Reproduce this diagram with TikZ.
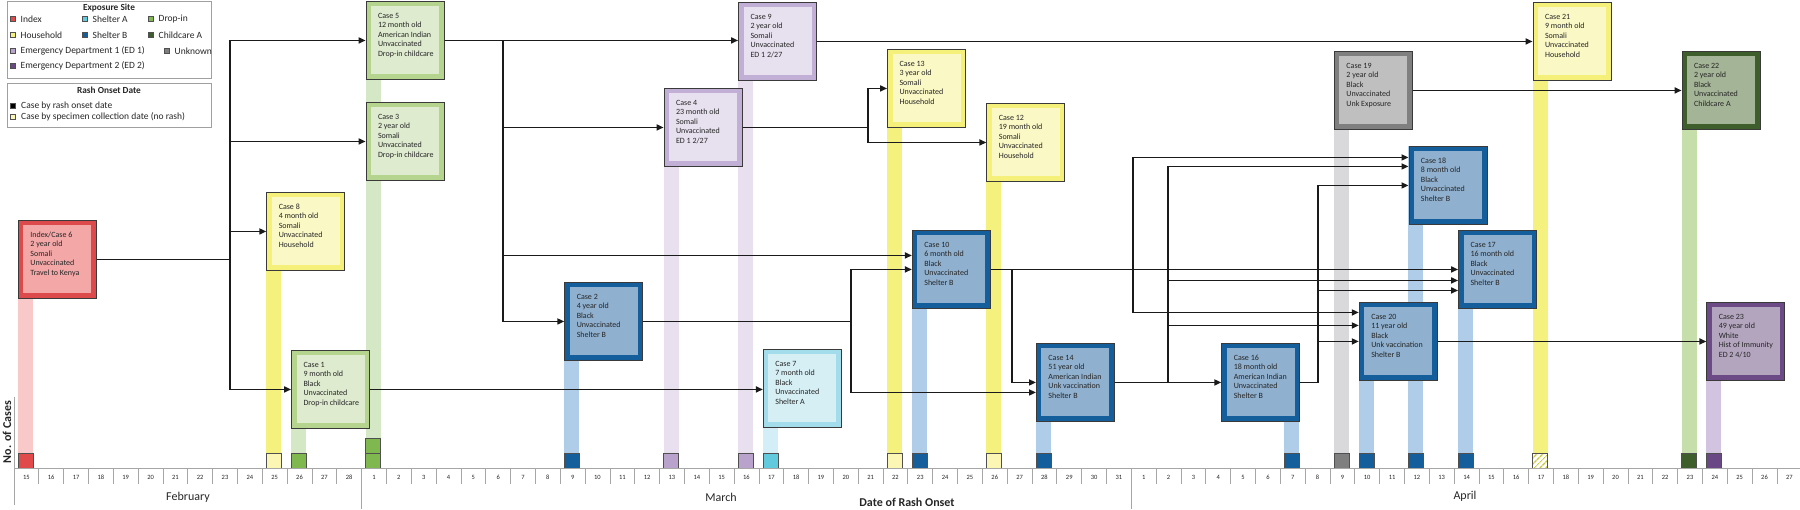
\documentclass[tikz,border=0pt]{standalone}
\usepackage{fontspec}
\setmainfont{Carlito}
\usepackage{tikz}
\usetikzlibrary{arrows.meta,calc,patterns.meta}

\definecolor{txtc}{HTML}{262626}
\definecolor{linkc}{HTML}{1A1A1A}
\definecolor{boxedge}{HTML}{3A3A3A}
\definecolor{sqedge}{HTML}{505050}
\definecolor{axisc}{HTML}{A6A6A6}
\definecolor{legc}{HTML}{A0A0A0}
\definecolor{hatchc}{HTML}{C9C63A}
% exposure site colours: frame, inner, date column, count square
\definecolor{idxfrm}{HTML}{DC4A4B}\definecolor{idxin}{HTML}{F4A7A7}\definecolor{idxbar}{HTML}{F9C9C9}\definecolor{idxsq}{HTML}{E04A4A}
\definecolor{hhfrm}{HTML}{F5F07A}\definecolor{hhin}{HTML}{FAF8C5}\definecolor{hhbar}{HTML}{F5F17E}\definecolor{specsq}{HTML}{FBF6B4}
\definecolor{dropfrm}{HTML}{B5D58F}\definecolor{dropin}{HTML}{DEEBCF}\definecolor{dropbar}{HTML}{D5E8C5}\definecolor{dropsq}{HTML}{7FB84E}
\definecolor{shafrm}{HTML}{A3DCEA}\definecolor{shain}{HTML}{D6EFF5}\definecolor{shabar}{HTML}{D3EEF6}\definecolor{shasq}{HTML}{62CADD}
\definecolor{shbfrm}{HTML}{155E9C}\definecolor{shbin}{HTML}{8FB0CF}\definecolor{shbbar}{HTML}{AFCDE8}\definecolor{shbsq}{HTML}{135E9B}
\definecolor{edafrm}{HTML}{C1AFD6}\definecolor{edain}{HTML}{E7E0EE}\definecolor{edabar}{HTML}{E8E0EF}\definecolor{edasq}{HTML}{B9A2CB}
\definecolor{edbfrm}{HTML}{6B4A86}\definecolor{edbin}{HTML}{B3A5BE}\definecolor{edbbar}{HTML}{D2C4E0}\definecolor{edbsq}{HTML}{6A4785}
\definecolor{ccafrm}{HTML}{3E5E2B}\definecolor{ccain}{HTML}{A4B496}\definecolor{ccabar}{HTML}{C6DEAA}\definecolor{ccasq}{HTML}{3E5E2B}
\definecolor{unkfrm}{HTML}{7F7F80}\definecolor{unkin}{HTML}{BFBFC0}\definecolor{unkbar}{HTML}{D9D9DB}\definecolor{unksq}{HTML}{7F7F7F}

\newcommand{\casefont}{\fontsize{8}{9.6}\selectfont}
\newcommand{\casetext}[1]{\parbox[c][58pt][t]{54pt}{\begin{tabular}{@{}l@{}}#1\end{tabular}}}

\tikzset{
  casebox/.style 2 args={draw=boxedge, line width=0.9pt, fill=#1, anchor=north west,
    minimum width=78pt, minimum height=78pt, inner sep=0pt, font=\casefont, text=txtc,
    path picture={\fill[#2] ([shift={(5pt,5pt)}]path picture bounding box.south west)
      rectangle ([shift={(-5pt,-5pt)}]path picture bounding box.north east);}},
  idxcase/.style={casebox={idxfrm}{idxin}},
  hhcase/.style={casebox={hhfrm}{hhin}},
  dropcase/.style={casebox={dropfrm}{dropin}},
  shacase/.style={casebox={shafrm}{shain}},
  shbcase/.style={casebox={shbfrm}{shbin}},
  edacase/.style={casebox={edafrm}{edain}},
  edbcase/.style={casebox={edbfrm}{edbin}},
  ccacase/.style={casebox={ccafrm}{ccain}},
  unkcase/.style={casebox={unkfrm}{unkin}},
  link/.style={draw=linkc, line width=1.6pt, -{Triangle[length=7pt,width=6pt]}},
  axisln/.style={draw=axisc, line width=0.8pt},
  daylbl/.style={font=\fontsize{6.5}{7}\selectfont, text=txtc},
  monthlbl/.style={font=\fontsize{12}{14}\selectfont, text=txtc},
  sq/.style={draw=sqedge, line width=0.6pt},
  legtitle/.style={font=\bfseries\fontsize{9.3}{10}\selectfont, text=txtc},
  legtxt/.style={font=\fontsize{9.5}{10}\selectfont, text=txtc, anchor=west, inner sep=0pt},
  legsq/.style={draw=sqedge, line width=0.5pt},
  legbox/.style={draw=legc, line width=0.9pt}
}

\begin{document}
\begin{tikzpicture}[x=1pt,y=-1pt]
    \useasboundingbox (0,0) rectangle (1800,509);

    % Legend: exposure site
    \draw[legbox] (7,1) rectangle (211,78);
    \node[legtitle] (legT1) at (109,8) {Exposure Site};
    \foreach \x/\y/\c/\t [count=\n] in {13/19/idxsq/Index, 85/19/shasq/Shelter A, 151/19/dropsq/Drop-in,
        13/35/hhbar/Household, 85/35/shbsq/Shelter B, 151/35/ccasq/Childcare A,
        13/51/edasq/Emergency Department 1 (ED 1), 167/51/unksq/Unknown,
        13/66/edbsq/Emergency Department 2 (ED 2)} {
        \filldraw[legsq, fill=\c] (\x-2.5,\y-2.5) rectangle ++(5,5);
        \node[legtxt] (leg\n) at (\x+7.5,\y) {\t};
    }

    % Legend: rash onset date
    \draw[legbox] (7,83) rectangle (211,127);
    \node[legtitle] (legT2) at (109,90) {Rash Onset Date};
    \filldraw[legsq, fill=black] (10.5,103.5) rectangle ++(5,5);
    \node[legtxt] (legR1) at (21,106) {Case by rash onset date};
    \filldraw[legsq, fill=specsq] (10.5,114.5) rectangle ++(5,5);
    \node[legtxt] (legR2) at (21,117) {Case by specimen collection date (no rash)};

    % Date columns
    \foreach \i/\top/\c in {0/220/idxbar, 10/192/hhbar, 11/350/dropbar, 14/1/dropbar, 22/282/shbbar,
        26/88/edabar, 29/2/edabar, 30/349/shabar, 35/49/hhbar, 36/230/shbbar, 39/103/hhbar,
        41/343/shbbar, 51/343/shbbar, 53/51/unkbar, 54/302/shbbar, 56/146/shbbar,
        58/230/shbbar, 61/2/hhbar, 67/51/ccabar, 68/302/edbbar}
        \fill[\c] (18+24.83*\i,\top) rectangle (33+24.83*\i,453);

    % Case boxes
    \node[idxcase] (c6) at (18,220) {\casetext{Index/Case 6\\2 year old\\Somali\\Unvaccinated\\Travel to Kenya}};
    \node[hhcase] (c8) at (266.3,192) {\casetext{Case 8\\4 month old\\Somali\\Unvaccinated\\Household}};
    \node[dropcase] (c1) at (291.1,350) {\casetext{Case 1\\9 month old\\Black\\Unvaccinated\\Drop-in childcare}};
    \node[dropcase] (c5) at (365.6,1) {\casetext{Case 5\\12 month old\\American Indian\\Unvaccinated\\Drop-in childcare}};
    \node[dropcase] (c3) at (365.6,102) {\casetext{Case 3\\2 year old\\Somali\\Unvaccinated\\Drop-in childcare}};
    \node[edacase] (c9) at (738.1,2) {\casetext{Case 9\\2 year old\\Somali\\Unvaccinated\\ED 1 2/27}};
    \node[edacase] (c4) at (663.6,88) {\casetext{Case 4\\23 month old\\Somali\\Unvaccinated\\ED 1 2/27}};
    \node[shbcase] (c2) at (564.3,282) {\casetext{Case 2\\4 year old\\Black\\Unvaccinated\\Shelter B}};
    \node[shacase] (c7) at (762.9,349) {\casetext{Case 7\\7 month old\\Black\\Unvaccinated\\Shelter A}};
    \node[hhcase] (c13) at (887.1,49) {\casetext{Case 13\\3 year old\\Somali\\Unvaccinated\\Household}};
    \node[hhcase] (c12) at (986.4,103) {\casetext{Case 12\\19 month old\\Somali\\Unvaccinated\\Household}};
    \node[shbcase] (c10) at (911.9,230) {\casetext{Case 10\\6 month old\\Black\\Unvaccinated\\Shelter B}};
    \node[shbcase] (c14) at (1036,343) {\casetext{Case 14\\51 year old\\American Indian\\Unk vaccination\\Shelter B}};
    \node[shbcase] (c16) at (1221.3,343) {\casetext{Case 16\\18 month old\\American Indian\\Unvaccinated\\Shelter B}};
    \node[unkcase] (c19) at (1334,51) {\casetext{Case 19\\2 year old\\Black\\Unvaccinated\\Unk Exposure}};
    \node[shbcase] (c20) at (1358.8,302) {\casetext{Case 20\\11 year old\\Black\\Unk vaccination\\Shelter B}};
    \node[shbcase] (c18) at (1408.5,146) {\casetext{Case 18\\8 month old\\Black\\Unvaccinated\\Shelter B}};
    \node[shbcase] (c17) at (1458.1,230) {\casetext{Case 17\\16 month old\\Black\\Unvaccinated\\Shelter B}};
    \node[hhcase] (c21) at (1532.6,2) {\casetext{Case 21\\9 month old\\Somali\\Unvaccinated\\Household}};
    \node[ccacase] (c22) at (1681.6,51) {\casetext{Case 22\\2 year old\\Black\\Unvaccinated\\Childcare A}};
    \node[edbcase] (c23) at (1706.4,302) {\casetext{Case 23\\49 year old\\White\\Hist of Immunity\\ED 2 4/10}};

    % Trunks and extra entry points
    \coordinate (tA) at (230,0);
    \coordinate (tB) at (503,0);
    \coordinate (tC) at (868,0);
    \coordinate (tD) at (851,0);
    \coordinate (tE) at (1012,0);
    \coordinate (tF) at (1133,0);
    \coordinate (tG) at (1168,0);
    \coordinate (tH) at (1318,0);
    \coordinate (c10u) at ($(c10.west)+(0,-14)$);
    \coordinate (c14l) at ($(c14.west)+(0,10)$);
    \coordinate (c18a) at ($(c18.west)+(0,-28)$);
    \coordinate (c18b) at ($(c18.west)+(0,-19)$);
    \coordinate (c17b) at ($(c17.west)+(0,11)$);
    \coordinate (c17c) at ($(c17.west)+(0,21)$);
    \coordinate (c20a) at ($(c20.west)+(0,-29)$);
    \coordinate (c20b) at ($(c20.west)+(0,-16)$);

    % Transmission links
    \foreach \t in {c5,c3,c8,c1}
        \draw[link] (c6.east) -| (tA |- \t.west) -- (\t.west);
    \draw[link] (c5.east) -- (c5.east -| c9.west);
    \foreach \t in {c4.west,c10u,c2.west}
        \draw[link] (c5.east) -| (tB |- \t) -- (\t);
    \foreach \t in {c13,c12}
        \draw[link] (c4.east) -| (tC |- \t.west) -- (\t.west);
    \draw[link] (c9.east) -- (c9.east -| c21.west);
    \draw[link] (c1.east) -- (c1.east -| c7.west);
    \foreach \t in {c10.west,c14l}
        \draw[link] (c2.east) -| (tD |- \t) -- (\t);
    \draw[link] (c10.east) -- (c17.west);
    \draw[link] (c10.east) -| (tE |- c14.west) -- (c14.west);
    \foreach \t in {c18a,c20a}
        \draw[link] (c10.east) -| (tF |- \t) -- (\t);
    \draw[link] (c14.east) -- (c16.west);
    \foreach \t in {c18b,c17b,c20b}
        \draw[link] (c14.east) -| (tG |- \t) -- (\t);
    \foreach \t in {c18.west,c17c,c20.west}
        \draw[link] (c16.east) -| (tH |- \t) -- (\t);
    \draw[link] (c20.east) -- (c23.west);
    \draw[link] (c19.east) -- (c22.west);

    % Case counts
    \foreach \i/\c in {0/idxsq, 11/dropsq, 14/dropsq, 22/shbsq, 26/edasq, 29/edasq, 30/shasq,
        36/shbsq, 41/shbsq, 51/shbsq, 53/unksq, 54/shbsq, 56/shbsq, 58/shbsq, 67/ccasq, 68/edbsq}
        \filldraw[sq, fill=\c] (18+24.83*\i,453) rectangle ++(15,15);
    \filldraw[sq, fill=dropsq] (18+24.83*14,438) rectangle ++(15,15);
    \foreach \i in {10,35,39}
        \filldraw[sq, fill=specsq] (18+24.83*\i,453) rectangle ++(15,15);
    \draw[sq, pattern={Lines[angle=45,distance=4pt,line width=1.5pt]}, pattern color=hatchc]
        (18+24.83*61,453) rectangle ++(15,15);

    % Axis
    \draw[axisln] (14,468) -- (1800,468);
    \foreach \k in {1,...,71}
        \draw[axisln] (14+24.83*\k,468) -- (14+24.83*\k,484);
    \draw[axisln] (14,397) -- (14,505);
    \draw[axisln] (361.6,468) -- (361.6,509);
    \draw[axisln] (1131.4,468) -- (1131.4,509);
    \foreach \d in {15,...,28}
        \node[daylbl] (feb\d) at (26.4+24.83*\d-372.45,477) {\d};
    \foreach \d in {1,...,31}
        \node[daylbl] (mar\d) at (26.4+24.83*\d+322.79,477) {\d};
    \foreach \d in {1,...,27}
        \node[daylbl] (apr\d) at (26.4+24.83*\d+1092.52,477) {\d};
    \node[monthlbl] (feb) at (188,497) {February};
    \node[monthlbl] (mar) at (721,497) {March};
    \node[monthlbl] (apr) at (1465,496) {April};
    \node[monthlbl, font=\bfseries\fontsize{12}{14}\selectfont] (xtitle) at (907,502) {Date of Rash Onset};
    \node[monthlbl, font=\bfseries\fontsize{12}{14}\selectfont, rotate=90] (ytitle) at (7,432) {No. of Cases};
\end{tikzpicture}
\end{document}
